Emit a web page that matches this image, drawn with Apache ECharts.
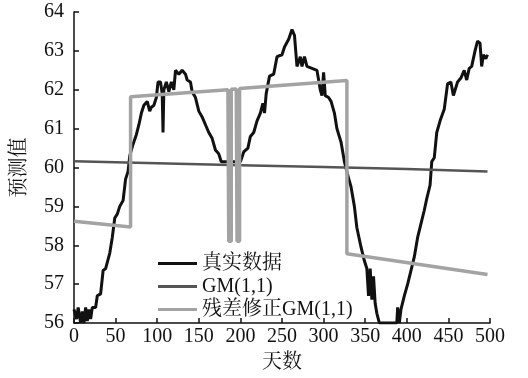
<!DOCTYPE html>
<html>
<head>
<meta charset="utf-8">
<script src="https://cdn.jsdelivr.net/npm/echarts@6/dist/echarts.min.js"></script>
<style>
    html, body { margin: 0; padding: 0; background: #fff; }
    #chart { width: 528px; height: 378px; }
</style>
</head>
<body>
<div id="chart"></div>
<script>
// 图例名称
const seriesNames = ['真实数据', 'GM(1,1)', '残差修正GM(1,1)']

// 真实数据 [天数, 值]
const realData = [
    [0, 56.35], [3, 56.1], [5, 56.4], [8, 56.0], [10, 56.3], [12, 56.0], [14, 56.4],
    [16, 56.05], [18, 56.35], [20, 56.1], [22, 56.4], [26, 56.4], [28, 56.7], [32, 56.75],
    [35, 57.35], [38, 57.4], [43, 57.8], [46, 58.2], [49, 58.7], [52, 58.8], [55, 59.0],
    [59, 59.15], [62, 59.7], [65, 59.9], [67, 60.3], [71, 60.6], [75, 60.85], [78, 61.1],
    [81, 61.4], [84, 61.6], [88, 61.7], [91, 61.45], [93, 61.55], [96, 61.6], [99, 61.8],
    [101, 62.2], [104, 62.2], [106, 61.9], [107, 60.9], [108, 62.0], [111, 62.2],
    [114, 61.95], [117, 62.2], [120, 62.0], [122, 62.5], [126, 62.4], [130, 62.5],
    [134, 62.4], [136, 62.25], [140, 62.2], [142, 61.95], [146, 61.8], [150, 61.45],
    [154, 61.3], [158, 61.1], [162, 60.9], [166, 60.75], [170, 60.45], [174, 60.35],
    [177, 60.15], [190, 60.15], [200, 60.15], [204, 60.4], [209, 60.5], [212, 60.8],
    [216, 60.9], [220, 61.2], [224, 61.4], [227, 61.65], [229, 61.4], [231, 61.9],
    [235, 62.35], [240, 62.4], [244, 62.85], [250, 62.9], [253, 63.1], [258, 63.3],
    [262, 63.55], [265, 63.4], [268, 62.6], [272, 62.85], [274, 62.6], [277, 62.85],
    [280, 62.6], [286, 62.55], [292, 62.5], [296, 62.0], [298, 61.85], [300, 62.45],
    [302, 61.85], [306, 61.8], [309, 61.7], [313, 61.4], [316, 61.0], [321, 60.65],
    [325, 60.15], [329, 59.8], [333, 59.5], [337, 59.0], [340, 58.45], [345, 57.95],
    [349, 57.6], [352, 57.4], [354, 56.7], [356, 57.4], [358, 56.6], [360, 57.2],
    [362, 56.5], [364, 56.25], [367, 56.0], [388, 56.0], [389, 56.4], [391, 56.0],
    [393, 56.35], [397, 56.7], [401, 57.0], [405, 57.35], [409, 57.7], [413, 58.2],
    [417, 58.55], [421, 58.9], [424, 59.2], [428, 59.55], [430, 60.15], [433, 60.25],
    [436, 60.9], [440, 61.2], [445, 61.5], [449, 62.15], [453, 62.2], [456, 61.85],
    [458, 61.8], [461, 62.2], [465, 62.3], [469, 62.5], [472, 62.25], [475, 62.55],
    [478, 62.6], [482, 63.0], [485, 63.25], [488, 63.2], [490, 62.6], [492, 62.9],
    [495, 62.8], [497, 62.9]
]

// GM(1,1) 预测
const gmData = [
    [0, 60.16], [100, 60.11], [200, 60.06], [300, 60.01], [400, 59.96], [497, 59.9]
]

// 残差修正GM(1,1) 预测
const correctedData = [
    [0, 58.62], [68, 58.47], [68, 61.82], [185, 62.0], [186, 58.1], [189, 58.1],
    [189, 62.01], [195, 62.02], [196, 58.1], [199, 58.1], [199, 62.03], [328, 62.24],
    [328, 57.78], [497, 57.25]
]

// 坐标轴范围
const xMin = 0, xMax = 500, xStep = 50
const yMin = 56, yMax = 64, yStep = 1

const fontFamily = '"Liberation Serif", "Noto Serif CJK SC", "Noto Sans CJK SC", serif'

const chart = echarts.init(document.getElementById('chart'), null, { renderer: 'canvas' })

const axisCommon = {
    axisLine: { show: true, onZero: false, lineStyle: { color: '#111', width: 1.5 } },
    axisTick: { show: true, inside: true, length: 5, lineStyle: { color: '#111', width: 1.5 } },
    splitLine: { show: false },
    axisLabel: { color: '#111', fontSize: 20, fontFamily },
    nameTextStyle: { color: '#111', fontSize: 20, fontFamily }
}

const option = {
    backgroundColor: '#fff',
    animation: false,
    grid: { left: 74, right: 38, top: 12, bottom: 51 },
    legend: {
        orient: 'vertical',
        left: 153,
        top: 247,
        icon: 'rect',
        itemWidth: 39,
        itemHeight: 3,
        itemGap: 0,
        textStyle: { color: '#111', fontSize: 20, fontFamily, lineHeight: 23 },
        data: seriesNames
    },
    xAxis: {
        ...axisCommon,
        type: 'value',
        min: xMin,
        max: xMax,
        interval: xStep,
        name: '天数',
        nameLocation: 'middle',
        nameGap: 30,
        axisLabel: { ...axisCommon.axisLabel, margin: 4 }
    },
    yAxis: {
        ...axisCommon,
        type: 'value',
        min: yMin,
        max: yMax,
        interval: yStep,
        name: '预测值',
        nameLocation: 'middle',
        nameGap: 44,
        axisLabel: { ...axisCommon.axisLabel, margin: 10 }
    },
    series: [
        {
            name: seriesNames[0],
            type: 'line',
            data: realData,
            symbol: 'none',
            lineStyle: { color: '#111', width: 3 },
            itemStyle: { color: '#111' }
        },
        {
            name: seriesNames[1],
            type: 'line',
            data: gmData,
            symbol: 'none',
            lineStyle: { color: '#555', width: 2.5 },
            itemStyle: { color: '#555' }
        },
        {
            name: seriesNames[2],
            type: 'line',
            data: correctedData,
            symbol: 'none',
            lineStyle: { color: '#a3a3a3', width: 3.5 },
            itemStyle: { color: '#a3a3a3' }
        }
    ]
}

chart.setOption(option)
</script>
</body>
</html>
